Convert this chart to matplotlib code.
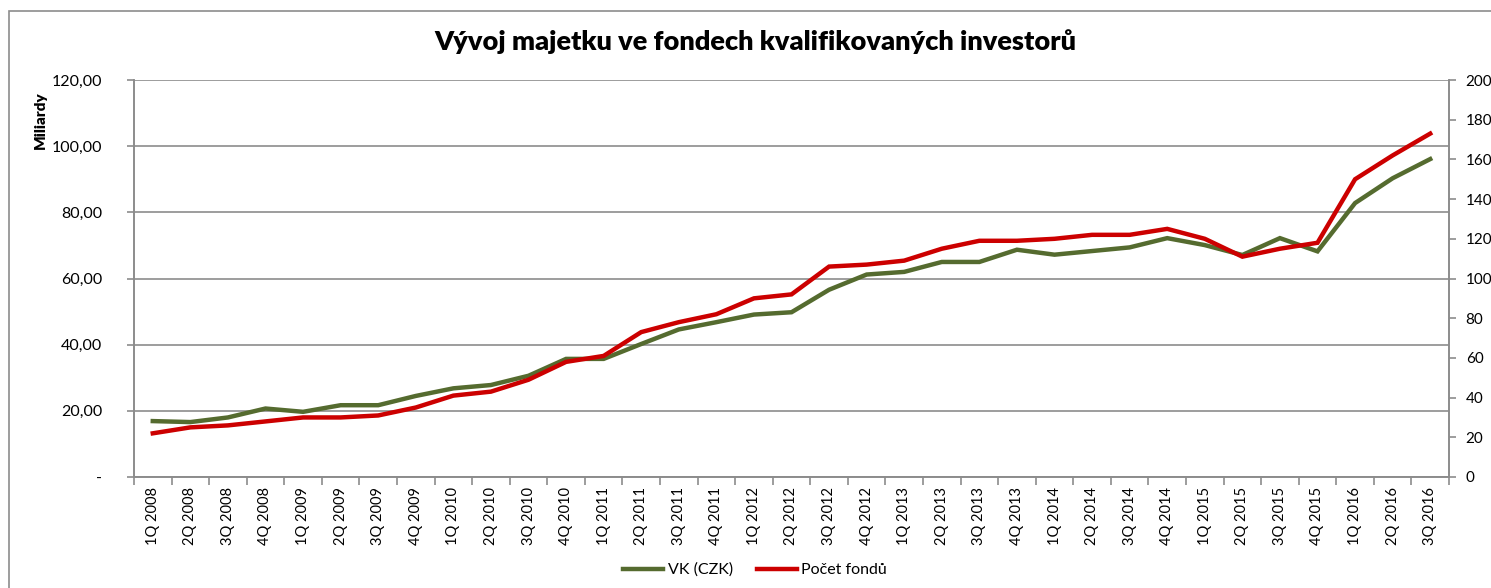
import matplotlib.pyplot as plt
from matplotlib.patches import Rectangle
from matplotlib.ticker import FixedLocator, FuncFormatter

plt.rcParams['font.family'] = ['Lato', 'DejaVu Sans']

# quarters 1Q 2008 .. 3Q 2016
quarters = [f"{q}Q {y}" for y in range(2008, 2017) for q in range(1, 5)][:35]

# VK (CZK), billions - left axis
vk_czk = [16.9, 16.6, 18.0, 20.7, 19.7, 21.7, 21.7, 24.5, 26.8, 27.8,
          30.6, 35.7, 35.7, 40.2, 44.6, 46.8, 49.1, 49.8, 56.6, 61.2,
          62.0, 65.0, 65.0, 68.7, 67.2, 68.3, 69.4, 72.2, 70.1, 67.1,
          72.2, 68.2, 82.8, 90.3, 96.1]

# Počet fondů - right axis
pocet_fondu = [22, 25, 26, 28, 30, 30, 31, 35, 41, 43,
               49, 58, 61, 73, 78, 82, 90, 92, 106, 107,
               109, 115, 119, 119, 120, 122, 122, 125, 120, 111,
               115, 118, 150, 162, 173]

W, H = 1491, 588
fig = plt.figure(figsize=(W / 100, H / 100), dpi=100)
fig.patches.append(Rectangle((8.5 / W, -0.1), 1.2, 1 - 10.5 / H + 0.1,
                             transform=fig.transFigure, fill=False,
                             edgecolor='#8c8c8c', linewidth=1.2))

ax = fig.add_axes([134 / W, 1 - 477 / H, (1449 - 134) / W, (477 - 80) / H])
ax2 = ax.twinx()

x = list(range(len(quarters)))
green, red = '#556b2f', '#cc0000'
l1, = ax.plot(x, vk_czk, color=green, lw=3.2, solid_joinstyle='miter', label='VK (CZK)')
l2, = ax2.plot(x, pocet_fondu, color=red, lw=3.2, solid_joinstyle='miter', label='Počet fondů')

grid_c = '#8c8c8c'
ax.set_xlim(-0.5, len(quarters) - 0.5)
ax.set_ylim(0, 120)
ax2.set_ylim(0, 200)
ax.set_yticks(range(0, 121, 20))
ax2.set_yticks(range(0, 201, 20))
ax.yaxis.set_major_formatter(FuncFormatter(lambda v, p: '-' if v == 0 else f"{v:.2f}".replace('.', ',')))
ax.grid(axis='y', color=grid_c, lw=1.2)
ax.set_axisbelow(True)

ax.set_xticks(x)
ax.set_xticklabels(quarters, rotation=90, fontsize=10.5)
ax.xaxis.set_minor_locator(FixedLocator([i - 0.5 for i in range(len(quarters) + 1)]))
ax.tick_params(axis='x', which='major', length=0, pad=7)
ax.tick_params(axis='x', which='minor', length=6, color=grid_c, width=1.2)
ax.tick_params(axis='y', length=5, color=grid_c, width=1.2, labelsize=11.5, pad=18)
ax2.tick_params(axis='y', length=5, color=grid_c, width=1.2, labelsize=11, pad=7)

for a in (ax, ax2):
    a.spines['top'].set_visible(False)
    for s in ('left', 'right', 'bottom'):
        a.spines[s].set_color(grid_c)
        a.spines[s].set_linewidth(1.2)

fig.text(755 / W, 1 - 42 / H, 'Vývoj majetku ve fondech kvalifikovaných investorů',
         ha='center', va='center', fontsize=19.5, fontweight='heavy')
fig.text(40 / W, 1 - 120 / H, 'Miliardy', rotation=90, ha='center', va='center',
         fontsize=11, fontweight='heavy')

fig.legend(handles=[l1, l2], loc='center', bbox_to_anchor=(755 / W, 1 - 570 / H),
           ncol=2, frameon=False, fontsize=11.5, handlelength=2.5, handletextpad=0.3,
           columnspacing=1.5)

fig.savefig('out.png', dpi=100)
